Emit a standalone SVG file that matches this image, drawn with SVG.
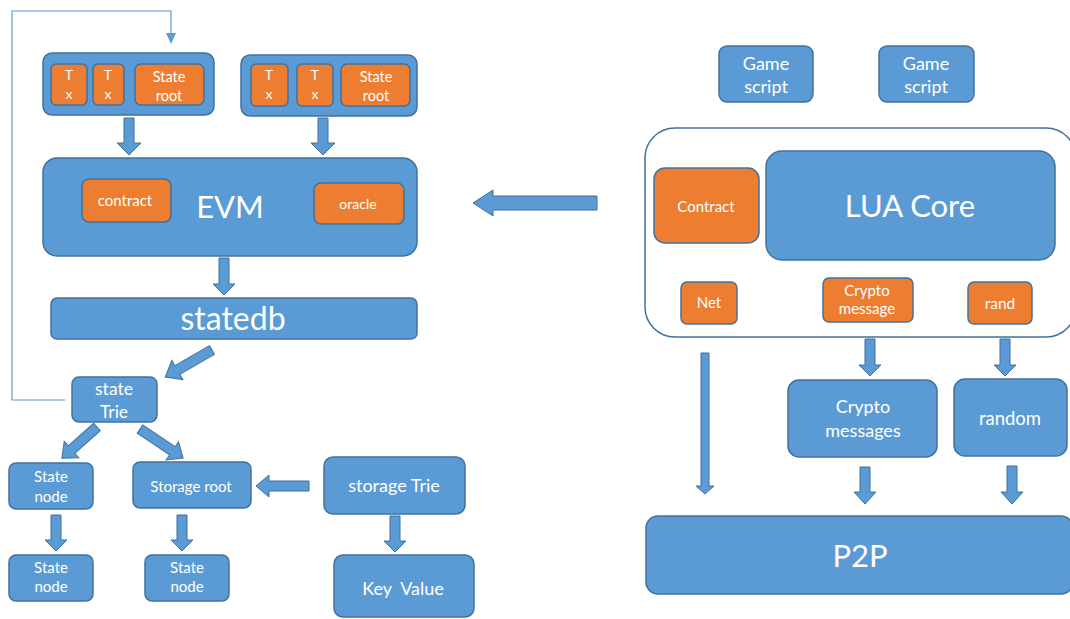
<svg xmlns="http://www.w3.org/2000/svg" width="1070" height="619" viewBox="0 0 1070 619">
<defs>
<style>
.b{fill:#5B9BD5;stroke:#41719C;stroke-width:1.5}
.o{fill:#ED7D31;stroke:#41719C;stroke-width:1.5}
.ar{fill:#5B9BD5;stroke:#41719C;stroke-width:1}
.t{font-family:Lato,"Open Sans","Liberation Sans",sans-serif;fill:#fff;text-anchor:middle}
</style>
</defs>
<rect width="1070" height="619" fill="#fff"/>

<g id="connectors">
<polyline points="65,400 12,400 12,11 171,11 171,34" fill="none" stroke="#5B9BD5" stroke-width="1.2"/>
<path d="M166,33 L176,33 L171,44 Z" fill="#5B9BD5"/>
<path class="ar" d="M124,118 L134,118 L134,143 L141,143 L129,155 L117,143 L124,143 Z"/>
<path class="ar" d="M318,118 L328,118 L328,143 L335,143 L323,155 L311,143 L318,143 Z"/>
<path class="ar" d="M219,258 L229,258 L229,284 L235,284 L224,295 L213,284 L219,284 Z"/>
<path class="ar" transform="translate(212,350) rotate(150)" d="M0,-5 L40,-5 L40,-11 L54,0 L40,11 L40,5 L0,5 Z"/>
<path class="ar" transform="translate(97,427) rotate(138.5)" d="M0,-5 L34,-5 L34,-11 L47,0 L34,11 L34,5 L0,5 Z"/>
<path class="ar" transform="translate(140,429) rotate(34)" d="M0,-5 L39,-5 L39,-11 L52,0 L39,11 L39,5 L0,5 Z"/>
<path class="ar" d="M51,515 L61,515 L61,540 L67,540 L56,551 L45,540 L51,540 Z"/>
<path class="ar" d="M177,515 L187,515 L187,540 L193,540 L182,551 L171,540 L177,540 Z"/>
<path class="ar" d="M390,516 L400,516 L400,541 L406,541 L395,552 L384,541 L390,541 Z"/>
<path class="ar" d="M309,481 L309,491 L269,491 L269,497 L256,486 L269,475 L269,481 Z"/>
<path class="ar" d="M597,196 L597,210 L493,210 L493,216 L473,203 L493,190 L493,196 Z"/>
<path class="ar" d="M701,353 L709,353 L709,486 L714,486 L705,494 L696,486 L701,486 Z"/>
<path class="ar" d="M865,339 L875,339 L875,365 L881,365 L870,376 L859,365 L865,365 Z"/>
<path class="ar" d="M1000,339 L1010,339 L1010,365 L1016,365 L1005,376 L994,365 L1000,365 Z"/>
<path class="ar" d="M860,467 L870,467 L870,492 L876,492 L865,504 L854,492 L860,492 Z"/>
<path class="ar" d="M1007,466 L1017,466 L1017,492 L1023,492 L1012,504 L1001,492 L1007,492 Z"/>
</g>

<g id="block1">
<rect class="b" x="43" y="53" width="171" height="62" rx="9"/>
<rect class="o" x="51" y="64" width="36" height="41" rx="5"/>
<text class="t" x="69" y="80" font-size="14">T</text><text class="t" x="69" y="99" font-size="14">x</text>
<rect class="o" x="93" y="64" width="31" height="41" rx="5"/>
<text class="t" x="108" y="80" font-size="14">T</text><text class="t" x="108" y="99" font-size="14">x</text>
<rect class="o" x="135" y="64" width="69" height="41" rx="6"/>
<text class="t" x="169" y="82" font-size="14.5">State</text><text class="t" x="169" y="101" font-size="14.5">root</text>
</g>

<g id="block2">
<rect class="b" x="241" y="55" width="176" height="61" rx="9"/>
<rect class="o" x="251" y="64" width="37" height="42" rx="5"/>
<text class="t" x="269" y="80" font-size="14">T</text><text class="t" x="269" y="99" font-size="14">x</text>
<rect class="o" x="297" y="64" width="36" height="42" rx="5"/>
<text class="t" x="315" y="80" font-size="14">T</text><text class="t" x="315" y="99" font-size="14">x</text>
<rect class="o" x="341" y="64" width="69" height="42" rx="6"/>
<text class="t" x="376" y="82" font-size="14.5">State</text><text class="t" x="376" y="101" font-size="14.5">root</text>
</g>

<g id="evm">
<rect class="b" x="43" y="158" width="374" height="98" rx="14"/>
<text class="t" x="230" y="218" font-size="31">EVM</text>
<rect class="o" x="82" y="179" width="89" height="43" rx="7"/>
<text class="t" x="125" y="206" font-size="15">contract</text>
<rect class="o" x="314" y="183" width="90" height="41" rx="7"/>
<text class="t" x="358" y="209" font-size="14">oracle</text>
</g>

<g id="statedb">
<rect class="b" x="51" y="298" width="366" height="41" rx="6"/>
<text class="t" x="233" y="330" font-size="32">statedb</text>
</g>

<g id="stateTrie">
<rect class="b" x="72" y="377" width="85" height="45" rx="7"/>
<text class="t" x="114" y="395" font-size="17.5">state</text>
<text class="t" x="114" y="418" font-size="17.5">Trie</text>
</g>

<g id="stateNode1">
<rect class="b" x="9" y="463" width="84" height="46" rx="7"/>
<text class="t" x="51" y="482" font-size="15">State</text>
<text class="t" x="51" y="502" font-size="15">node</text>
</g>

<g id="storageRoot">
<rect class="b" x="133" y="462" width="118" height="46" rx="7"/>
<text class="t" x="191" y="492" font-size="15">Storage root</text>
</g>

<g id="storageTrie">
<rect class="b" x="324" y="457" width="141" height="57" rx="9"/>
<text class="t" x="394" y="492" font-size="18">storage Trie</text>
</g>

<g id="stateNode2">
<rect class="b" x="9" y="555" width="84" height="46" rx="7"/>
<text class="t" x="51" y="573" font-size="15">State</text>
<text class="t" x="51" y="592" font-size="15">node</text>
</g>

<g id="stateNode3">
<rect class="b" x="145" y="555" width="84" height="46" rx="7"/>
<text class="t" x="187" y="573" font-size="15">State</text>
<text class="t" x="187" y="592" font-size="15">node</text>
</g>

<g id="keyValue">
<rect class="b" x="334" y="555" width="140" height="62" rx="9"/>
<text class="t" x="403" y="595" font-size="18" xml:space="preserve">Key  Value</text>
</g>

<g id="gameScript1">
<rect class="b" x="719" y="46" width="94" height="56" rx="8"/>
<text class="t" x="766" y="70" font-size="18">Game</text>
<text class="t" x="766" y="93" font-size="18">script</text>
</g>

<g id="gameScript2">
<rect class="b" x="879" y="46" width="95" height="56" rx="8"/>
<text class="t" x="926" y="70" font-size="18">Game</text>
<text class="t" x="926" y="93" font-size="18">script</text>
</g>

<g id="luaContainer">
<rect x="645" y="128" width="431" height="209" rx="30" fill="#fff" stroke="#41719C" stroke-width="1.5"/>
</g>

<g id="contract">
<rect class="o" x="654" y="168" width="105" height="75" rx="11"/>
<text class="t" x="706" y="212" font-size="15">Contract</text>
</g>

<g id="luaCore">
<rect class="b" x="766" y="151" width="289" height="109" rx="16"/>
<text class="t" x="910" y="217" font-size="31">LUA Core</text>
</g>

<g id="net">
<rect class="o" x="681" y="282" width="56" height="42" rx="6"/>
<text class="t" x="709" y="308" font-size="15">Net</text>
</g>

<g id="cryptoMessage">
<rect class="o" x="823" y="278" width="90" height="44" rx="6"/>
<text class="t" x="867" y="296" font-size="15">Crypto</text>
<text class="t" x="867" y="314" font-size="15">message</text>
</g>

<g id="rand">
<rect class="o" x="968" y="282" width="64" height="42" rx="6"/>
<text class="t" x="1000" y="309" font-size="15.5">rand</text>
</g>

<g id="cryptoMessages">
<rect class="b" x="788" y="380" width="149" height="77" rx="11"/>
<text class="t" x="863" y="413" font-size="18">Crypto</text>
<text class="t" x="863" y="437" font-size="18">messages</text>
</g>

<g id="random">
<rect class="b" x="954" y="379" width="113" height="77" rx="11"/>
<text class="t" x="1010" y="425" font-size="18.5">random</text>
</g>

<g id="p2p">
<rect class="b" x="646" y="516" width="427" height="78" rx="12"/>
<text class="t" x="860" y="567" font-size="31">P2P</text>
</g>
</svg>
